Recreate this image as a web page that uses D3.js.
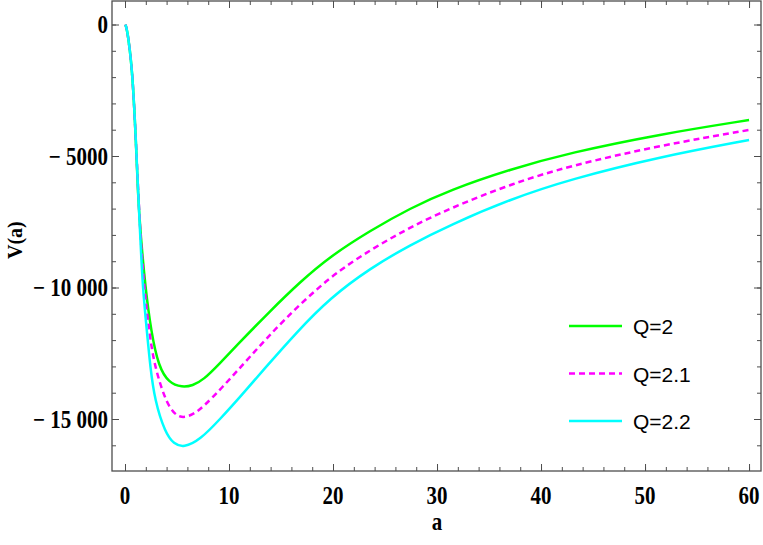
<!DOCTYPE html>
<html>
<head>
<meta charset="utf-8">
<script src="https://cdn.jsdelivr.net/npm/d3@7"></script>
<style>
  html, body { margin: 0; padding: 0; background: #fff; }
  #chart-area { width: 763px; height: 545px; }
</style>
</head>
<body>
<div id="chart-area"></div>
<script>
// values
let seriesNames = ['Q=2', 'Q=2.1', 'Q=2.2'];

let aQ20 = [0.04, 0.2, 0.45, 0.74, 1.06, 1.25, 1.5, 1.95, 2.53, 3.24, 4.2, 5.5, 6.5, 7.53, 9.13, 10.74, 13.94, 16.8, 19.71, 23.56, 27.4, 31.25, 37.02, 42.79, 51.44, 60];
let vQ20 = [0, -200, -900, -2000, -4500, -6500, -8000, -9970, -11730, -13011, -13620, -13800, -13730, -13517, -12882, -12200, -10900, -9800, -8820, -7840, -6989, -6293, -5506, -4873, -4170, -3631];

let aQ21 = [0.04, 0.2, 0.45, 0.74, 1.06, 1.3, 1.5, 1.83, 2.34, 2.85, 3.88, 4.6, 5.4, 6.5, 7.53, 9.13, 12.02, 15.22, 19.71, 23.56, 27.4, 31.25, 37.02, 42.79, 51.44, 60];
let vQ21 = [0, -200, -900, -2000, -4500, -6600, -8100, -9970, -11730, -13011, -14278, -14750, -14975, -14850, -14532, -13897, -12631, -11236, -9580, -8574, -7711, -6989, -6076, -5369, -4600, -4011];

let aQ22 = [0.04, 0.2, 0.45, 0.74, 1.06, 1.3, 1.5, 1.7, 2.12, 2.43, 2.85, 3.88, 4.7, 5.64, 7.2, 9.13, 11.2, 13.3, 16.5, 19.71, 23.56, 27.4, 31.25, 37.02, 42.79, 51.44, 60];
let vQ22 = [0, -200, -900, -2000, -4500, -6700, -8300, -9970, -11730, -13011, -14278, -15544, -15950, -16090, -15798, -15011, -14100, -13137, -11700, -10400, -9270, -8384, -7624, -6646, -5886, -5030, -4392];

let xTicks = [0, 10, 20, 30, 40, 50, 60];
let yTicks = [0, -5000, -10000, -15000];
let yTickLabels = ['0', '\u2212\u20055000', '\u2212\u200510\u2005000', '\u2212\u200515\u2005000'];

let width = 763;
let height = 545;
let padding = { left: 112, right: 2, top: 1, bottom: 74 };
let colors = ['#00ff00', '#ff00ff', '#00ffff'];
let dashes = [null, '6,4', null];
let serif = "'Liberation Serif', 'Times New Roman', Times, serif";
let sans = "'Liberation Sans', Arial, sans-serif";

let series = [
  aQ20.map((a, i) => ({ a: a, v: vQ20[i] })),
  aQ21.map((a, i) => ({ a: a, v: vQ21[i] })),
  aQ22.map((a, i) => ({ a: a, v: vQ22[i] })),
];

let xScale = d3.scaleLinear().domain([-1.25, 61.15]).range([padding.left, width - padding.right]);
let yScale = d3.scaleLinear().domain([-16977, 894]).range([height - padding.bottom, padding.top]);

let chart = d3
  .select('#chart-area')
  .append('svg')
  .attr('width', width)
  .attr('height', height);

chart
  .append('clipPath')
  .attr('id', 'plot-clip')
  .append('rect')
  .attr('x', padding.left)
  .attr('y', padding.top)
  .attr('width', width - padding.left - padding.right)
  .attr('height', height - padding.top - padding.bottom);

//curves
let line = d3
  .line()
  .x((d) => xScale(d.a))
  .y((d) => yScale(d.v))
  .curve(d3.curveBasis);

chart
  .append('g')
  .attr('clip-path', 'url(#plot-clip)')
  .selectAll('path')
  .data(series)
  .enter()
  .append('path')
  .attr('d', (d) => line(d))
  .attr('fill', 'none')
  .attr('stroke', (d, i) => colors[i])
  .attr('stroke-width', 2.5)
  .attr('stroke-dasharray', (d, i) => dashes[i]);

//frame ticks on all four sides, pointing inward
let frameColor = '#4d4d4d';
let xMinor = d3.range(0, 62, 2);
let yMinor = d3.range(-16000, 1, 1000);
let noLabel = () => '';

let tickAxes = [
  [d3.axisBottom, `translate(0, ${height - padding.bottom})`, xScale, xMinor, 4],
  [d3.axisBottom, `translate(0, ${height - padding.bottom})`, xScale, xTicks, 7],
  [d3.axisTop, `translate(0, ${padding.top})`, xScale, xMinor, 4],
  [d3.axisTop, `translate(0, ${padding.top})`, xScale, xTicks, 7],
  [d3.axisLeft, `translate(${padding.left}, 0)`, yScale, yMinor, 4],
  [d3.axisLeft, `translate(${padding.left}, 0)`, yScale, yTicks, 7],
  [d3.axisRight, `translate(${width - padding.right}, 0)`, yScale, yMinor, 4],
  [d3.axisRight, `translate(${width - padding.right}, 0)`, yScale, yTicks, 7],
];
tickAxes.forEach(([axisFn, tr, scale, values, size]) => {
  chart
    .append('g')
    .attr('transform', tr)
    .call(axisFn(scale).tickValues(values).tickSize(-size).tickFormat(noLabel));
});
chart.selectAll('.domain').remove();
chart.selectAll('.tick line').attr('stroke', frameColor);
chart.selectAll('.tick text').remove();

chart
  .append('rect')
  .attr('x', padding.left)
  .attr('y', padding.top)
  .attr('width', width - padding.left - padding.right)
  .attr('height', height - padding.top - padding.bottom)
  .attr('fill', 'none')
  .attr('stroke', frameColor)
  .attr('stroke-width', 1.3);

//tick labels (bold, slightly tall serif)
chart
  .append('g')
  .selectAll('text')
  .data(xTicks)
  .enter()
  .append('text')
  .attr('transform', (d) => `translate(${xScale(d)}, 504) scale(1, 1.2)`)
  .attr('text-anchor', 'middle')
  .style('font-family', serif)
  .style('font-weight', 'bold')
  .style('font-size', '21px')
  .text((d) => d);

chart
  .append('g')
  .selectAll('text')
  .data(yTicks)
  .enter()
  .append('text')
  .attr('transform', (d) => `translate(108, ${yScale(d) + 8.5}) scale(1, 1.2)`)
  .attr('text-anchor', 'end')
  .style('font-family', serif)
  .style('font-weight', 'bold')
  .style('font-size', '21px')
  .text((d, i) => yTickLabels[i]);

//axis labels
chart
  .append('text')
  .attr('transform', `translate(${xScale(30)}, 530) scale(1, 1.2)`)
  .attr('text-anchor', 'middle')
  .style('font-family', serif)
  .style('font-weight', 'bold')
  .style('font-size', '21px')
  .text('a');
chart
  .append('text')
  .attr('transform', `translate(22, ${yScale(-8200)}) rotate(-90) scale(1, 1.1)`)
  .attr('text-anchor', 'middle')
  .style('font-family', serif)
  .style('font-weight', 'bold')
  .style('font-size', '20px')
  .text('V(a)');

//legend
let legend = chart
  .append('g')
  .selectAll('g')
  .data(seriesNames)
  .enter()
  .append('g')
  .attr('transform', (d, i) => `translate(569, ${326 + i * 47.5})`);
legend
  .append('line')
  .attr('x1', 0)
  .attr('x2', 53)
  .attr('stroke', (d, i) => colors[i])
  .attr('stroke-width', 2.5)
  .attr('stroke-dasharray', (d, i) => dashes[i]);
legend
  .append('text')
  .attr('x', 64)
  .attr('y', 8)
  .style('font-family', sans)
  .style('font-size', '21px')
  .text((d) => d);
</script>
</body>
</html>
